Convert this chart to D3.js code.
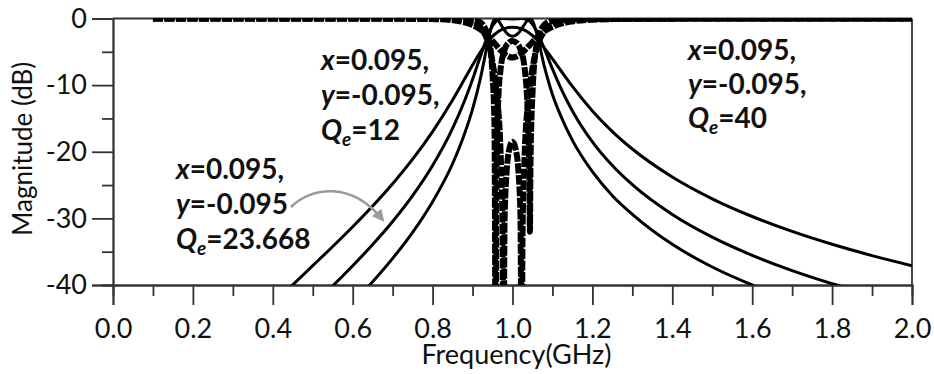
<!DOCTYPE html>
<html>
<head>
<meta charset="utf-8">
<script src="https://cdn.jsdelivr.net/npm/d3@7"></script>
<style>
  body { margin: 0; background: #fff; }
  svg { display: block; }
  text { font-family: Lato, "Open Sans", sans-serif; fill: #111; }
</style>
</head>
<body>
<svg id="chart" width="934" height="374"></svg>
<script>
// ---- Axis ticks ----
const xMajorTicks = [0.0, 0.2, 0.4, 0.6, 0.8, 1.0, 1.2, 1.4, 1.6, 1.8, 2.0];
const xMinorTicks = [0.1, 0.3, 0.5, 0.7, 0.9, 1.1, 1.3, 1.5, 1.7, 1.9];
const yMajorTicks = [0, -10, -20, -30, -40];
const yMinorTicks = [-5, -15, -25, -35];

// ---- Transmission |S21| (dB), solid curves ----
const freqS21 = [0.40, 0.45, 0.50, 0.55, 0.60, 0.65, 0.70, 0.75, 0.80, 0.85, 0.88, 0.90, 0.92, 0.94, 0.95, 0.958, 0.96, 0.97, 0.98, 0.99, 1.00,
                 1.01, 1.02, 1.03, 1.04, 1.044, 1.05, 1.06, 1.08, 1.10, 1.12, 1.15, 1.20, 1.25, 1.30, 1.40, 1.50, 1.60, 1.70, 1.80, 1.90, 2.00];
const s21Qe12 = [-42.9, -39.98, -37.10, -34.22, -31.25, -28.14, -24.80, -21.12, -16.97, -12.22, -9.09, -6.99, -5.01, -3.34, -2.68, -2.26, -2.16, -1.77, -1.51, -1.35, -1.31,
                 -1.35, -1.50, -1.74, -2.09, -2.27, -2.55, -3.10, -4.47, -6.06, -7.73, -10.20, -13.87, -16.97, -19.59, -23.79, -27.06, -29.72, -31.96, -33.89, -35.59, -37.10];
const s21Qe23 = [-48.9, -45.94, -43.04, -40.13, -37.11, -33.93, -30.48, -26.60, -22.07, -16.49, -12.34, -9.14, -5.63, -2.31, -1.09, -0.46, -0.35, -0.05, -0.00, -0.05, -0.07,
                 -0.05, -0.00, -0.04, -0.28, -0.47, -0.87, -1.84, -4.58, -7.57, -10.33, -13.87, -18.51, -22.07, -24.95, -29.42, -32.82, -35.55, -37.84, -39.80, -41.51, -43.04];
const s21Qe40 = [-55.0, -52.0, -49.0, -46.0, -42.7, -39.5, -36.0, -32.1, -27.5, -21.8, -17.3, -13.6, -8.90, -3.08, -0.67, -0.00, -0.03, -0.81, -1.79, -2.45, -2.67,
                 -2.45, -1.82, -0.90, -0.09, -0.00, -0.34, -2.13, -7.26, -11.4, -14.5, -18.3, -23.0, -26.6, -29.4, -33.9, -37.3, -40.0, -42.3, -44.5, -46.5, -48.0];

// ---- Reflection |S11| (dB), dashed curves ----
const freqS11Qe12 = [0.10, 0.50, 0.60, 0.70, 0.75, 0.80, 0.85, 0.88, 0.90, 0.92, 0.94, 0.95, 0.96, 0.97, 0.98, 0.99, 1.00,
                     1.01, 1.02, 1.03, 1.04, 1.05, 1.06, 1.08, 1.10, 1.12, 1.15, 1.20, 1.25, 1.30, 1.40, 1.60, 2.00];
const s11Qe12 = [0, -0.002, -0.003, -0.014, -0.034, -0.088, -0.27, -0.57, -0.97, -1.65, -2.70, -3.36, -4.07, -4.75, -5.33, -5.72, -5.86,
                 -5.72, -5.35, -4.81, -4.18, -3.53, -2.92, -1.92, -1.24, -0.80, -0.44, -0.18, -0.09, -0.05, -0.02, -0.005, 0];

const freqS11Qe23 = [0.10, 0.60, 0.70, 0.75, 0.80, 0.85, 0.88, 0.90, 0.92, 0.94, 0.95, 0.96, 0.97, 0.975, 0.9775, 0.98, 0.985, 0.99, 1.00,
                     1.01, 1.015, 1.02, 1.023, 1.025, 1.03, 1.04, 1.05, 1.06, 1.08, 1.10, 1.12, 1.15, 1.20, 1.30, 1.50, 2.00];
const s11Qe23 = [0, -0.001, -0.004, -0.01, -0.027, -0.098, -0.26, -0.57, -1.39, -3.85, -6.54, -11.11, -19.78, -30.3, -60, -31.0, -23.3, -20.2, -18.5,
                 -20.2, -23.1, -29.8, -60, -32.9, -21.01, -12.07, -7.42, -4.61, -1.86, -0.84, -0.42, -0.18, -0.06, -0.014, -0.002, 0];

const freqS11Qe40 = [0.10, 0.70, 0.80, 0.85, 0.88, 0.90, 0.92, 0.94, 0.95, 0.955, 0.9582, 0.96, 0.965, 0.97, 0.98, 0.99, 1.00,
                     1.01, 1.02, 1.03, 1.04, 1.042, 1.0436, 1.045, 1.05, 1.06, 1.08, 1.10, 1.12, 1.15, 1.20, 1.30, 2.00];
const s11Qe40 = [0, -0.001, -0.007, -0.028, -0.079, -0.19, -0.60, -2.94, -8.42, -16.51, -60, -22.16, -11.41, -7.71, -4.71, -3.66, -3.38,
                 -3.65, -4.65, -7.29, -16.98, -23, -32, -22, -11.30, -4.11, -0.91, -0.31, -0.14, -0.05, -0.017, -0.004, 0];

// ---- Layout ----
const svg = d3.select("#chart");
const plotLeft = 113, plotRight = 912, plotTop = 18.5, plotBottom = 285;
const x = d3.scaleLinear().domain([0, 2]).range([plotLeft, plotRight]);
const y = d3.scaleLinear().domain([-40, 0]).range([plotBottom, plotTop]);
const axisColor = "#333";
const tickFont = 27;

const defs = svg.append("defs");
defs.append("clipPath").attr("id", "plotClip")
  .append("rect")
  .attr("x", plotLeft).attr("y", plotTop)
  .attr("width", plotRight - plotLeft).attr("height", plotBottom - plotTop);

// Frame: top and right edges
svg.append("line").attr("x1", plotLeft).attr("x2", plotRight).attr("y1", plotTop).attr("y2", plotTop)
  .attr("stroke", axisColor).attr("stroke-width", 1.8);
svg.append("line").attr("x1", plotRight).attr("x2", plotRight).attr("y1", plotTop).attr("y2", plotBottom)
  .attr("stroke", axisColor).attr("stroke-width", 1.8);

// ---- Axes ----
function styleAxis(g) {
  g.select(".domain").attr("stroke", axisColor).attr("stroke-width", 1.8);
  g.selectAll(".tick line").attr("stroke", axisColor).attr("stroke-width", 1.8);
  g.selectAll(".tick text").attr("font-size", tickFont).attr("fill", "#111")
    .style("font-family", "Lato, 'Open Sans', sans-serif");
}

const xAxisMinor = svg.append("g").attr("transform", `translate(0,${plotBottom})`)
  .call(d3.axisBottom(x).tickValues(xMinorTicks).tickSize(11).tickFormat(""));
styleAxis(xAxisMinor);
const xAxis = svg.append("g").attr("transform", `translate(0,${plotBottom})`)
  .call(d3.axisBottom(x).tickValues(xMajorTicks).tickSize(20).tickPadding(14).tickFormat(d => d.toFixed(1)));
styleAxis(xAxis);

const yAxisMinor = svg.append("g").attr("transform", `translate(${plotLeft},0)`)
  .call(d3.axisLeft(y).tickValues(yMinorTicks).tickSize(11).tickFormat(""));
styleAxis(yAxisMinor);
const yAxis = svg.append("g").attr("transform", `translate(${plotLeft},0)`)
  .call(d3.axisLeft(y).tickValues(yMajorTicks).tickSize(21).tickPadding(5).tickFormat(d => String(d)));
styleAxis(yAxis);

// Axis titles
svg.append("text")
  .attr("x", (plotLeft + plotRight) / 2 + 4).attr("y", 364)
  .attr("text-anchor", "middle").attr("font-size", 27)
  .text("Frequency(GHz)");
svg.append("text")
  .attr("transform", `translate(32,${(plotTop + plotBottom) / 2 - 3}) rotate(-90)`)
  .attr("text-anchor", "middle").attr("font-size", 26)
  .text("Magnitude (dB)");

// ---- Curves ----
const line = d3.line()
  .x(d => x(d[0])).y(d => y(d[1]))
  .curve(d3.curveMonotoneX);
const curves = svg.append("g").attr("clip-path", "url(#plotClip)");

[s21Qe12, s21Qe23, s21Qe40].forEach(vals => {
  curves.append("path")
    .datum(freqS21.map((f, i) => [f, vals[i]]))
    .attr("d", line)
    .attr("fill", "none").attr("stroke", "#000").attr("stroke-width", 3);
});

[[freqS11Qe12, s11Qe12], [freqS11Qe23, s11Qe23], [freqS11Qe40, s11Qe40]].forEach(([fs, vals]) => {
  curves.append("path")
    .datum(fs.map((f, i) => [f, vals[i]]))
    .attr("d", line)
    .attr("fill", "none").attr("stroke", "#000").attr("stroke-width", 6)
    .attr("stroke-dasharray", "10,1.5");
});

// ---- Annotations ----
function annotate(px, py, lineGap, qeText, secondComma) {
  const g = svg.append("g").attr("font-size", 28).attr("font-weight", "bold");
  const t1 = g.append("text").attr("x", px).attr("y", py);
  t1.append("tspan").attr("font-style", "italic").text("x");
  t1.append("tspan").text("=0.095,");
  const t2 = g.append("text").attr("x", px).attr("y", py + lineGap);
  t2.append("tspan").attr("font-style", "italic").text("y");
  t2.append("tspan").text("=-0.095" + secondComma);
  const t3 = g.append("text").attr("x", px).attr("y", py + 2 * lineGap);
  t3.append("tspan").attr("font-style", "italic").text("Q");
  t3.append("tspan").attr("font-style", "italic").attr("font-size", 19).attr("dy", 6).text("e");
  t3.append("tspan").attr("dy", -6).text("=" + qeText);
}
annotate(321, 70, 35, "12", ",");
annotate(688, 60, 34, "40", ",");
annotate(176, 179, 35, "23.668", "");

// Curved gray pointer from the lower-left label toward the middle curve
defs.append("marker")
  .attr("id", "arrowHead").attr("viewBox", "0 0 10 10")
  .attr("refX", 7).attr("refY", 5)
  .attr("markerUnits", "userSpaceOnUse")
  .attr("markerWidth", 13).attr("markerHeight", 12)
  .attr("orient", "auto")
  .append("path").attr("d", "M0,0 L10,5 L0,10 z").attr("fill", "#9a9a9a");
const pointer = d3.path();
pointer.moveTo(291, 207);
pointer.bezierCurveTo(312, 186, 352, 182, 382, 219);
svg.append("path")
  .attr("d", pointer.toString())
  .attr("fill", "none").attr("stroke", "#9a9a9a").attr("stroke-width", 2.5)
  .attr("marker-end", "url(#arrowHead)");
</script>
</body>
</html>
